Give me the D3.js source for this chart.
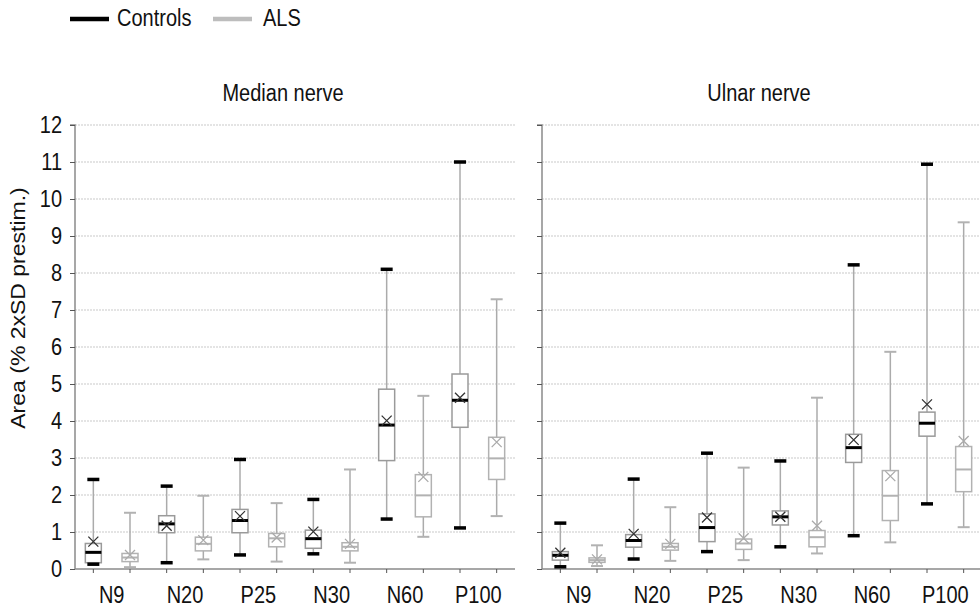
<!DOCTYPE html>
<html>
<head>
<meta charset="utf-8">
<script src="https://cdn.jsdelivr.net/npm/d3@7"></script>
<style>
  body { margin: 0; background: #fff; }
  svg { font-family: "Liberation Sans", Arial, sans-serif; }
</style>
</head>
<body>
<div id="main-container"></div>
<script>
// Categories and groups
const categories = ['N9', 'N20', 'P25', 'N30', 'N60', 'P100'];
const groups = ['Controls', 'ALS'];
const yTicks = [0, 1, 2, 3, 4, 5, 6, 7, 8, 9, 10, 11, 12];

// rows: [min, q1, median, q3, max, mean] per category
const medianControls = [
    [0.13, 0.17, 0.45, 0.69, 2.42, 0.74],
    [0.17, 0.98, 1.22, 1.44, 2.24, 1.17],
    [0.38, 0.98, 1.31, 1.61, 2.96, 1.43],
    [0.41, 0.56, 0.82, 1.05, 1.88, 1.01],
    [1.35, 2.93, 3.89, 4.86, 8.10, 4.01],
    [1.11, 3.83, 4.56, 5.27, 11.00, 4.63]
];
const medianALS = [
    [0.05, 0.20, 0.31, 0.42, 1.52, 0.38],
    [0.26, 0.49, 0.68, 0.86, 1.98, 0.78],
    [0.20, 0.60, 0.83, 0.96, 1.78, 0.85],
    [0.17, 0.49, 0.60, 0.71, 2.69, 0.68],
    [0.87, 1.41, 1.99, 2.55, 4.68, 2.49],
    [1.43, 2.42, 2.99, 3.56, 7.29, 3.43]
];
const ulnarControls = [
    [0.06, 0.24, 0.37, 0.47, 1.24, 0.44],
    [0.27, 0.59, 0.77, 0.93, 2.43, 0.95],
    [0.47, 0.74, 1.12, 1.49, 3.13, 1.39],
    [0.60, 1.19, 1.41, 1.57, 2.92, 1.41],
    [0.90, 2.88, 3.28, 3.64, 8.22, 3.49],
    [1.76, 3.59, 3.94, 4.24, 10.94, 4.45]
];
const ulnarALS = [
    [0.08, 0.18, 0.24, 0.30, 0.64, 0.26],
    [0.22, 0.51, 0.60, 0.69, 1.67, 0.68],
    [0.24, 0.53, 0.69, 0.81, 2.74, 0.83],
    [0.42, 0.60, 0.86, 1.04, 4.63, 1.17],
    [0.72, 1.31, 1.98, 2.66, 5.87, 2.51],
    [1.13, 2.09, 2.69, 3.31, 9.37, 3.46]
];

const WIDTH = 980;
const HEIGHT = 615;
const FONT = 20;
const STRETCH = 1.15; // glyphs in the source look a bit taller than wide

const STYLE = {
    Controls: { box: '#9a9a9a', cap: '#000', capW: 3.5, med: '#000', medW: 3, mark: '#333' },
    ALS: { box: '#b2b2b2', cap: '#b2b2b2', capW: 2, med: '#b2b2b2', medW: 2, mark: '#aaa' }
};

const SVG = d3.select('#main-container').append('svg')
    .attr('width', WIDTH)
    .attr('height', HEIGHT);

const y = d3.scaleLinear().domain([0, 12]).range([569, 125]);

// text helper: place at (x, y) and stretch vertically
function addText(parent, x, yPos, str, anchor = 'start') {
    return parent.append('text')
        .attr('transform', `translate(${x},${yPos}) scale(1,${STRETCH})`)
        .attr('text-anchor', anchor)
        .style('font-size', `${FONT}px`)
        .attr('fill', '#111')
        .text(str);
}

// Legend
const LEGEND = SVG.append('g').attr('id', 'legend');
const legendItems = [
    { name: 'Controls', x: 70, color: '#000', textX: 117 },
    { name: 'ALS', x: 213, color: '#bdbdbd', textX: 263 }
];
legendItems.forEach(d => {
    LEGEND.append('line')
        .attr('x1', d.x).attr('x2', d.x + 39)
        .attr('y1', 19).attr('y2', 19)
        .attr('stroke', d.color)
        .attr('stroke-width', 4.5);
    addText(LEGEND, d.textX, 26, d.name);
});

// Y axis title
SVG.append('text')
    .attr('transform', `translate(25, 308) rotate(-90) scale(${STRETCH},1)`)
    .attr('text-anchor', 'middle')
    .style('font-size', `${FONT}px`)
    .attr('fill', '#111')
    .text('Area (% 2xSD prestim.)');

const panels = [
    { title: 'Median nerve', left: 75, right: 515, titleX: 283, labels: true, data: { Controls: medianControls, ALS: medianALS } },
    { title: 'Ulnar nerve', left: 542, right: 982, titleX: 759, labels: false, data: { Controls: ulnarControls, ALS: ulnarALS } }
];

panels.forEach(p => drawPanel(p));

function drawPanel(p) {
    const keys = [];
    categories.forEach(c => groups.forEach(g => keys.push(`${c}|${g}`)));
    const x = d3.scaleBand().domain(keys).range([p.left, p.right]);
    const bw = x.bandwidth();
    const cx = k => x(k) + bw / 2;

    const G = SVG.append('g');

    // title
    addText(G, p.titleX, 101, p.title, 'middle');

    // grid lines
    G.append('g').selectAll('line')
        .data(yTicks.slice(1))
        .enter().append('line')
        .attr('x1', p.left).attr('x2', p.right)
        .attr('y1', d => y(d)).attr('y2', d => y(d))
        .attr('stroke', '#c9c9c9')
        .attr('stroke-width', 1)
        .attr('stroke-dasharray', '2,1');

    // y axis
    const yAxis = G.append('g')
        .attr('transform', `translate(${p.left},0)`)
        .call(d3.axisLeft(y).tickValues(yTicks).tickSize(5).tickPadding(8).tickFormat(p.labels ? d3.format('d') : ''));
    yAxis.select('.domain').attr('stroke', '#8a8a8a').attr('stroke-width', 1.5)
        .attr('d', `M-5,${y(12)}H0V${y(0)}`);
    yAxis.selectAll('.tick line').attr('stroke', '#555');
    yAxis.selectAll('.tick text')
        .attr('font-size', null)
        .style('font-size', `${FONT}px`).attr('fill', '#111')
        .attr('font-family', '"Liberation Sans", Arial, sans-serif')
        .attr('dy', '0.34em')
        .attr('transform', `scale(1,${STRETCH})`);

    // x axis
    const xAxis = G.append('g')
        .attr('transform', `translate(0,${y(0)})`);
    xAxis.append('line')
        .attr('x1', p.left).attr('x2', p.right)
        .attr('stroke', '#8a8a8a').attr('stroke-width', 1.5);
    xAxis.selectAll('.tk')
        .data(keys)
        .enter().append('line')
        .attr('class', 'tk')
        .attr('x1', cx).attr('x2', cx)
        .attr('y1', 0).attr('y2', 4)
        .attr('stroke', '#555');
    categories.forEach(c => addText(xAxis, x(`${c}|Controls`) + bw, 34, c, 'middle'));

    // boxes
    const rows = [];
    categories.forEach((c, i) => groups.forEach(g => {
        const r = p.data[g][i];
        rows.push({ key: `${c}|${g}`, group: g, min: r[0], q1: r[1], med: r[2], q3: r[3], max: r[4], mean: r[5] });
    }));

    const boxW = 16;
    const capW = 12;
    const B = G.append('g').selectAll('g')
        .data(rows)
        .enter().append('g')
        .attr('transform', d => `translate(${cx(d.key)},0)`);

    B.append('line')
        .attr('y1', d => y(d.min)).attr('y2', d => y(d.max))
        .attr('stroke', '#ababab').attr('stroke-width', 1.5);
    B.append('rect')
        .attr('x', -boxW / 2).attr('width', boxW)
        .attr('y', d => y(d.q3)).attr('height', d => y(d.q1) - y(d.q3))
        .attr('fill', '#fff')
        .attr('stroke', d => STYLE[d.group].box).attr('stroke-width', 1.5);
    ['min', 'max'].forEach(k => {
        B.append('line')
            .attr('x1', -capW / 2).attr('x2', capW / 2)
            .attr('y1', d => y(d[k])).attr('y2', d => y(d[k]))
            .attr('stroke', d => STYLE[d.group].cap)
            .attr('stroke-width', d => STYLE[d.group].capW);
    });
    B.append('line')
        .attr('x1', -boxW / 2).attr('x2', boxW / 2)
        .attr('y1', d => y(d.med)).attr('y2', d => y(d.med))
        .attr('stroke', d => STYLE[d.group].med)
        .attr('stroke-width', d => STYLE[d.group].medW);
    B.append('path')
        .attr('d', d => `M-5,${y(d.mean) - 5}L5,${y(d.mean) + 5}M-5,${y(d.mean) + 5}L5,${y(d.mean) - 5}`)
        .attr('fill', 'none')
        .attr('stroke', d => STYLE[d.group].mark)
        .attr('stroke-width', 1.3);
}
</script>
</body>
</html>
